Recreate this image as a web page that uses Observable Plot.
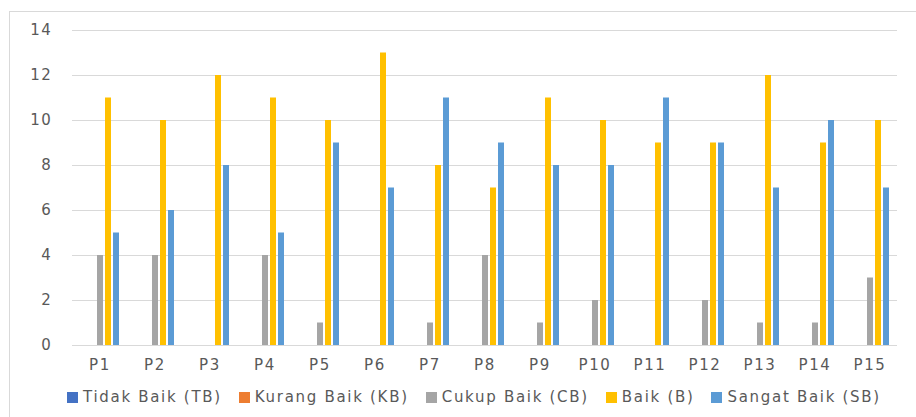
<!DOCTYPE html>
<html>
<head>
<meta charset="utf-8">
<script src="https://cdn.jsdelivr.net/npm/d3@7"></script>
<script src="https://cdn.jsdelivr.net/npm/@observablehq/plot@0.6"></script>
<style>
  html, body { margin: 0; padding: 0; background: #fff; }
  #wrap { position: relative; width: 916px; height: 417px; overflow: hidden; font-family: "DejaVu Sans", sans-serif; }
  #frame { position: absolute; left: 9px; top: 11px; width: 940px; height: 440px; border: 1px solid #d9d9d9; box-sizing: border-box; }
  #chart { position: absolute; left: 0; top: 0; }
  #legend { position: absolute; left: 67px; top: 388px; display: flex; justify-content: flex-start; gap: 17px; font-size: 15px; letter-spacing: 1.7px; color: #595959; }
  .item { display: flex; align-items: center; white-space: nowrap; }
  .sw { width: 11px; height: 11px; margin-right: 5px; display: inline-block; }
  #chart svg text { letter-spacing: 1.6px; font-size: 15px; }
</style>
</head>
<body>
<div id="wrap">
  <div id="frame"></div>
  <div id="chart"></div>
  <div id="legend"></div>
</div>
<script>
const categories = ["P1","P2","P3","P4","P5","P6","P7","P8","P9","P10","P11","P12","P13","P14","P15"];
const seriesNames = ["Tidak Baik (TB)","Kurang Baik (KB)","Cukup Baik (CB)","Baik (B)","Sangat Baik (SB)"];
const seriesColors = ["#4472C4","#ED7D31","#A5A5A5","#FFC000","#5B9BD5"];
const tbValues = [0,0,0,0,0,0,0,0,0,0,0,0,0,0,0];
const kbValues = [0,0,0,0,0,0,0,0,0,0,0,0,0,0,0];
const cbValues = [4,4,0,4,1,0,1,4,1,2,0,2,1,1,3];
const bValues  = [11,10,12,11,10,13,8,7,11,10,9,9,12,9,10];
const sbValues = [5,6,8,5,9,7,11,9,8,8,11,9,7,10,7];
const yTicks = [0,2,4,6,8,10,12,14];

const allValues = [tbValues, kbValues, cbValues, bValues, sbValues];
const data = [];
categories.forEach((c, i) => {
  seriesNames.forEach((s, j) => {
    data.push({cat: c, series: s, value: allValues[j][i]});
  });
});

const chart = Plot.plot({
  width: 916,
  height: 380,
  marginTop: 30,
  marginBottom: 35,
  marginLeft: 72,
  marginRight: 19,
  style: { fontFamily: "DejaVu Sans, sans-serif", fontSize: "15px", color: "#595959", background: "transparent" },
  fx: { domain: categories, padding: 0, label: null, tickSize: 0, tickPadding: 14 },
  x: { domain: seriesNames, paddingInner: 0.25, paddingOuter: 0.86, axis: null },
  y: { domain: [0, 14], ticks: yTicks, label: null, tickSize: 0, tickPadding: 20, tickFormat: d => d },
  color: { domain: seriesNames, range: seriesColors },
  marks: [
    Plot.ruleY(yTicks, { stroke: "#d9d9d9", strokeWidth: 1 }),
    Plot.barY(data, { fx: "cat", x: "series", y: "value", fill: "series" })
  ]
});
document.getElementById("chart").appendChild(chart);

const legend = document.getElementById("legend");
seriesNames.forEach((s, j) => {
  const item = document.createElement("div");
  item.className = "item";
  const sw = document.createElement("span");
  sw.className = "sw";
  sw.style.background = seriesColors[j];
  item.appendChild(sw);
  item.appendChild(document.createTextNode(s));
  legend.appendChild(item);
});
</script>
</body>
</html>
